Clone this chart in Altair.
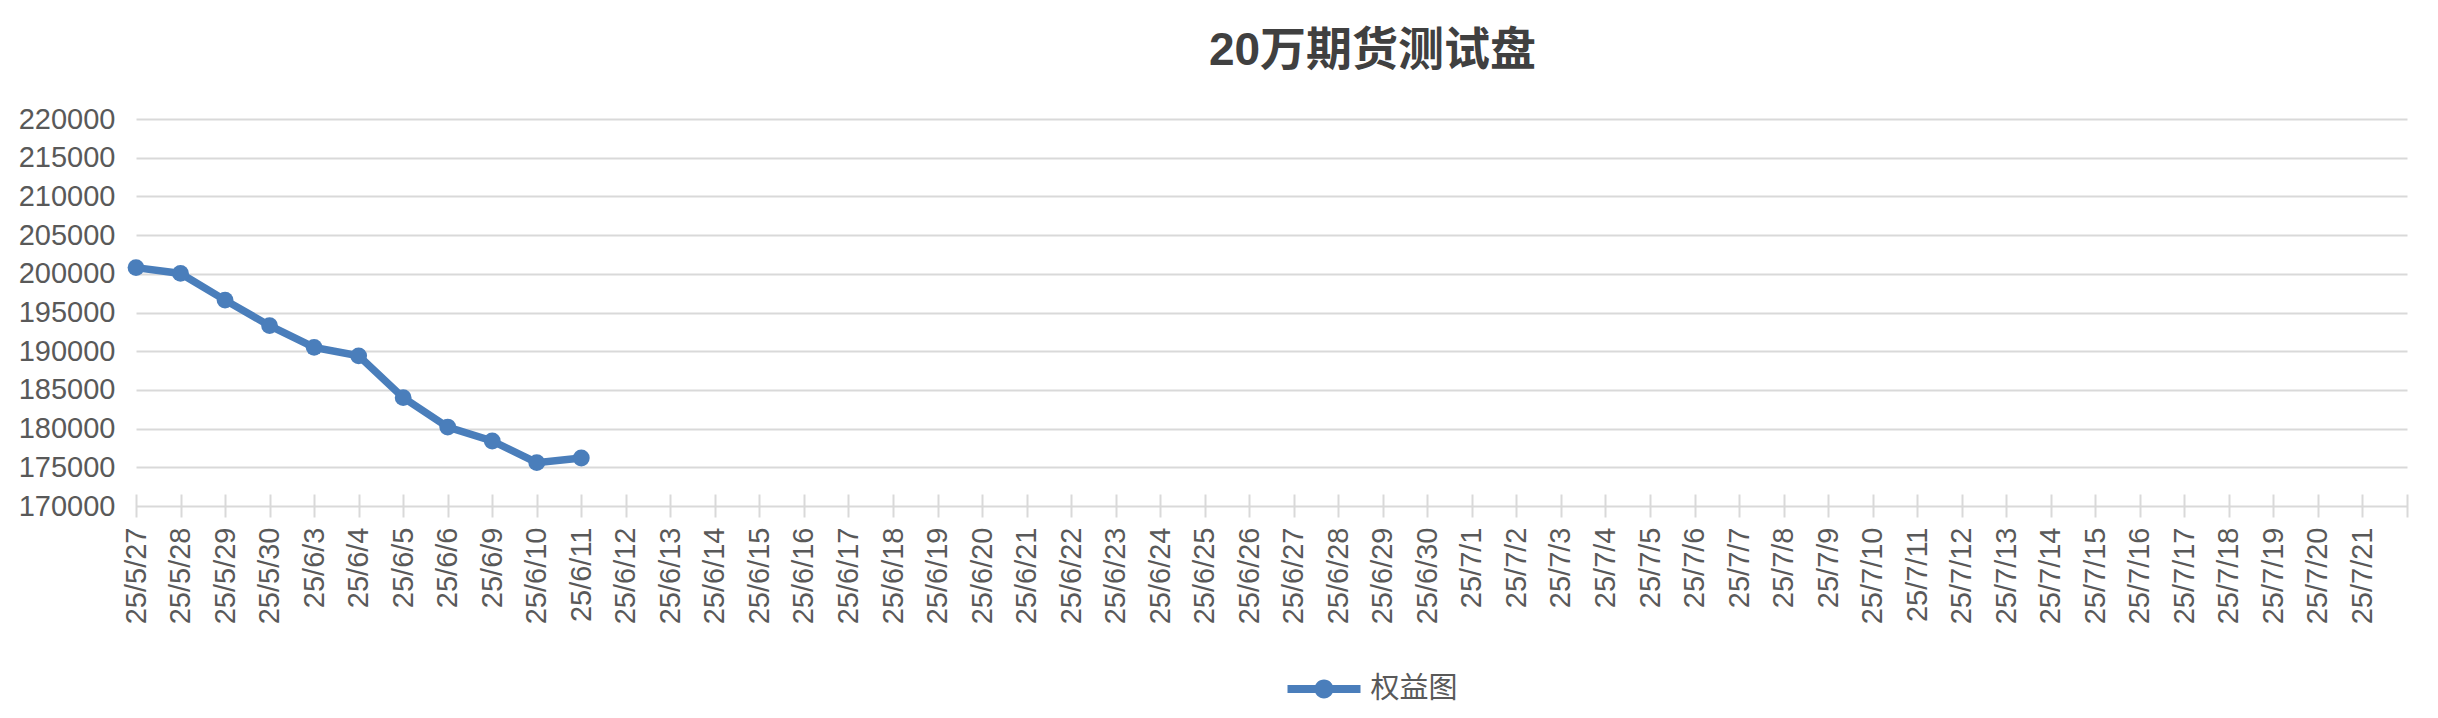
import altair as alt
import pandas as pd

title_text = "20万期货测试盘"
series_name = "权益图"

dates = [
    "25/5/27", "25/5/28", "25/5/29", "25/5/30", "25/6/3", "25/6/4", "25/6/5",
    "25/6/6", "25/6/9", "25/6/10", "25/6/11", "25/6/12", "25/6/13", "25/6/14",
    "25/6/15", "25/6/16", "25/6/17", "25/6/18", "25/6/19", "25/6/20", "25/6/21",
    "25/6/22", "25/6/23", "25/6/24", "25/6/25", "25/6/26", "25/6/27", "25/6/28",
    "25/6/29", "25/6/30", "25/7/1", "25/7/2", "25/7/3", "25/7/4", "25/7/5",
    "25/7/6", "25/7/7", "25/7/8", "25/7/9", "25/7/10", "25/7/11", "25/7/12",
    "25/7/13", "25/7/14", "25/7/15", "25/7/16", "25/7/17", "25/7/18", "25/7/19",
    "25/7/20", "25/7/21", "",
]

equity = [200800, 200050, 196600, 193300, 190500, 189400,
          184000, 180200, 178400, 175600, 176200]

y_ticks = [170000, 175000, 180000, 185000, 190000, 195000,
           200000, 205000, 210000, 215000, 220000]

df = pd.DataFrame({
    "date": dates[:len(equity)],
    "equity": equity,
    "series": [series_name] * len(equity),
})

BLUE = "#4a7ebb"
GRID = "#d9d9d9"
TEXT = "#595959"
FONT = "Liberation Sans, Noto Sans CJK SC"

symbol_path = ("M-1,-0.11L1,-0.11L1,0.11L-1,0.11Z "
               "M-0.26,0A0.26,0.26 0 1,1 0.26,0A0.26,0.26 0 1,1 -0.26,0Z")

chart = alt.Chart(df).mark_line(
    strokeWidth=7.5,
    point=alt.OverlayMarkDef(filled=True, size=283, opacity=1),
).encode(
    x=alt.X(
        "date:N",
        sort=None,
        scale=alt.Scale(type="point", domain=dates, padding=0),
        axis=alt.Axis(
            title=None, labelAngle=-90, domain=False, offset=-12,
            tickSize=23, tickWidth=2, tickColor=GRID, labelPadding=10,
            labelFontSize=29, labelColor=TEXT, labelFont=FONT,
            labelOverlap=False, grid=False,
        ),
    ),
    y=alt.Y(
        "equity:Q",
        scale=alt.Scale(domain=[170000, 220000], zero=False, nice=False),
        axis=alt.Axis(
            title=None, values=y_ticks, format="d", domain=False, ticks=False,
            labelPadding=21, labelFontSize=29, labelColor=TEXT, labelFont=FONT,
            gridColor=GRID, gridWidth=2,
        ),
    ),
    color=alt.Color(
        "series:N",
        scale=alt.Scale(range=[BLUE]),
        legend=alt.Legend(
            title=None, orient="none", legendX=1151.5, legendY=533.5,
            symbolType=symbol_path, symbolSize=5329, symbolFillColor=BLUE,
            symbolStrokeColor=BLUE, symbolStrokeWidth=0, symbolOpacity=1,
            labelFontSize=29, labelColor=TEXT, labelFont="Noto Sans CJK SC",
            labelOffset=10,
        ),
    ),
).properties(
    width=2271,
    height=387,
    padding={"left": 128, "top": 111, "right": 20, "bottom": 205},
    autosize=alt.AutoSizeParams(type="none"),
    title=alt.TitleParams(
        title_text, anchor="middle", frame="group", dx=101,
        baseline="alphabetic", offset=-6, fontSize=46, fontWeight="bold",
        color="#404040", font=FONT,
    ),
).configure_view(stroke=None)

chart.save("out.html", embed_options={"renderer": "svg", "actions": False})
